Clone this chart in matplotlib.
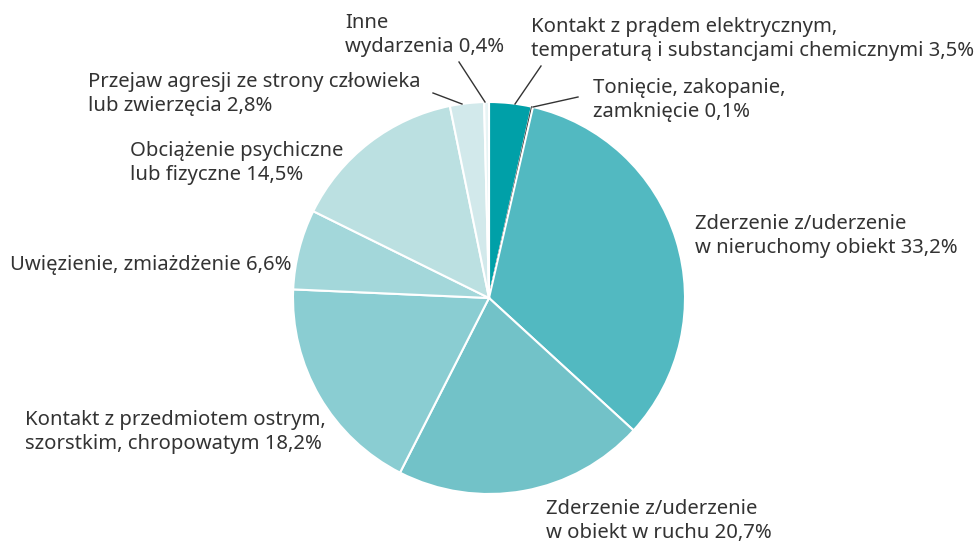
import matplotlib.pyplot as plt

plt.rcParams['font.family'] = ['Noto Sans', 'DejaVu Sans']

# dane: udział wypadków wg wydarzenia (%)
labels = [
    'Kontakt z prądem elektrycznym,\ntemperaturą i substancjami chemicznymi 3,5%',
    'Tonięcie, zakopanie,\nzamknięcie 0,1%',
    'Zderzenie z/uderzenie\nw nieruchomy obiekt 33,2%',
    'Zderzenie z/uderzenie\nw obiekt w ruchu 20,7%',
    'Kontakt z przedmiotem ostrym,\nszorstkim, chropowatym 18,2%',
    'Uwięzienie, zmiażdżenie 6,6%',
    'Obciążenie psychiczne\nlub fizyczne 14,5%',
    'Przejaw agresji ze strony człowieka\nlub zwierzęcia 2,8%',
    'Inne\nwydarzenia 0,4%',
]
values = [3.5, 0.1, 33.2, 20.7, 18.2, 6.6, 14.5, 2.8, 0.4]
colors = ['#00a0a8', '#2b2b2b', '#52b9c1', '#72c2c8', '#8acdd2',
          '#a3d7da', '#bbe0e1', '#d2e9eb', '#e8f4f5']

# pozycje etykiet (px obrazu) i linie odniesienia
label_pos = [(531, 39), (593, 100), (695, 236), (546, 521), (25, 432),
             (10, 265), (130, 163), (88, 94), (345, 35)]
leaders = {0: [(541, 66), (515, 104)],
           1: [(578, 97), (533, 107)],
           7: [(433, 93), (462, 104)],
           8: [(459, 62), (485, 102)]}

W, H = 979, 543
fig = plt.figure(figsize=(W / 100, H / 100), dpi=100)
ax = fig.add_axes([0, 0, 1, 1])

wedges, _ = ax.pie(values, colors=colors, startangle=90, counterclock=False,
                   center=(489, H - 298), radius=196,
                   wedgeprops=dict(edgecolor='white', linewidth=1.5))
wedges[1].set_edgecolor('#2b2b2b')
wedges[1].set_linewidth(1.0)

ax.set_xlim(0, W)
ax.set_ylim(0, H)
ax.set_aspect('equal')
ax.axis('off')

for i, (txt, (x, y)) in enumerate(zip(labels, label_pos)):
    ax.text(x, H - y, txt, ha='left', va='center', fontsize=14.6,
            color='#333333', linespacing=1.25)
    if i in leaders:
        (x1, y1), (x2, y2) = leaders[i]
        ax.plot([x1, x2], [H - y1, H - y2], color='#333333', lw=1)

fig.savefig('out.png', dpi=100)
